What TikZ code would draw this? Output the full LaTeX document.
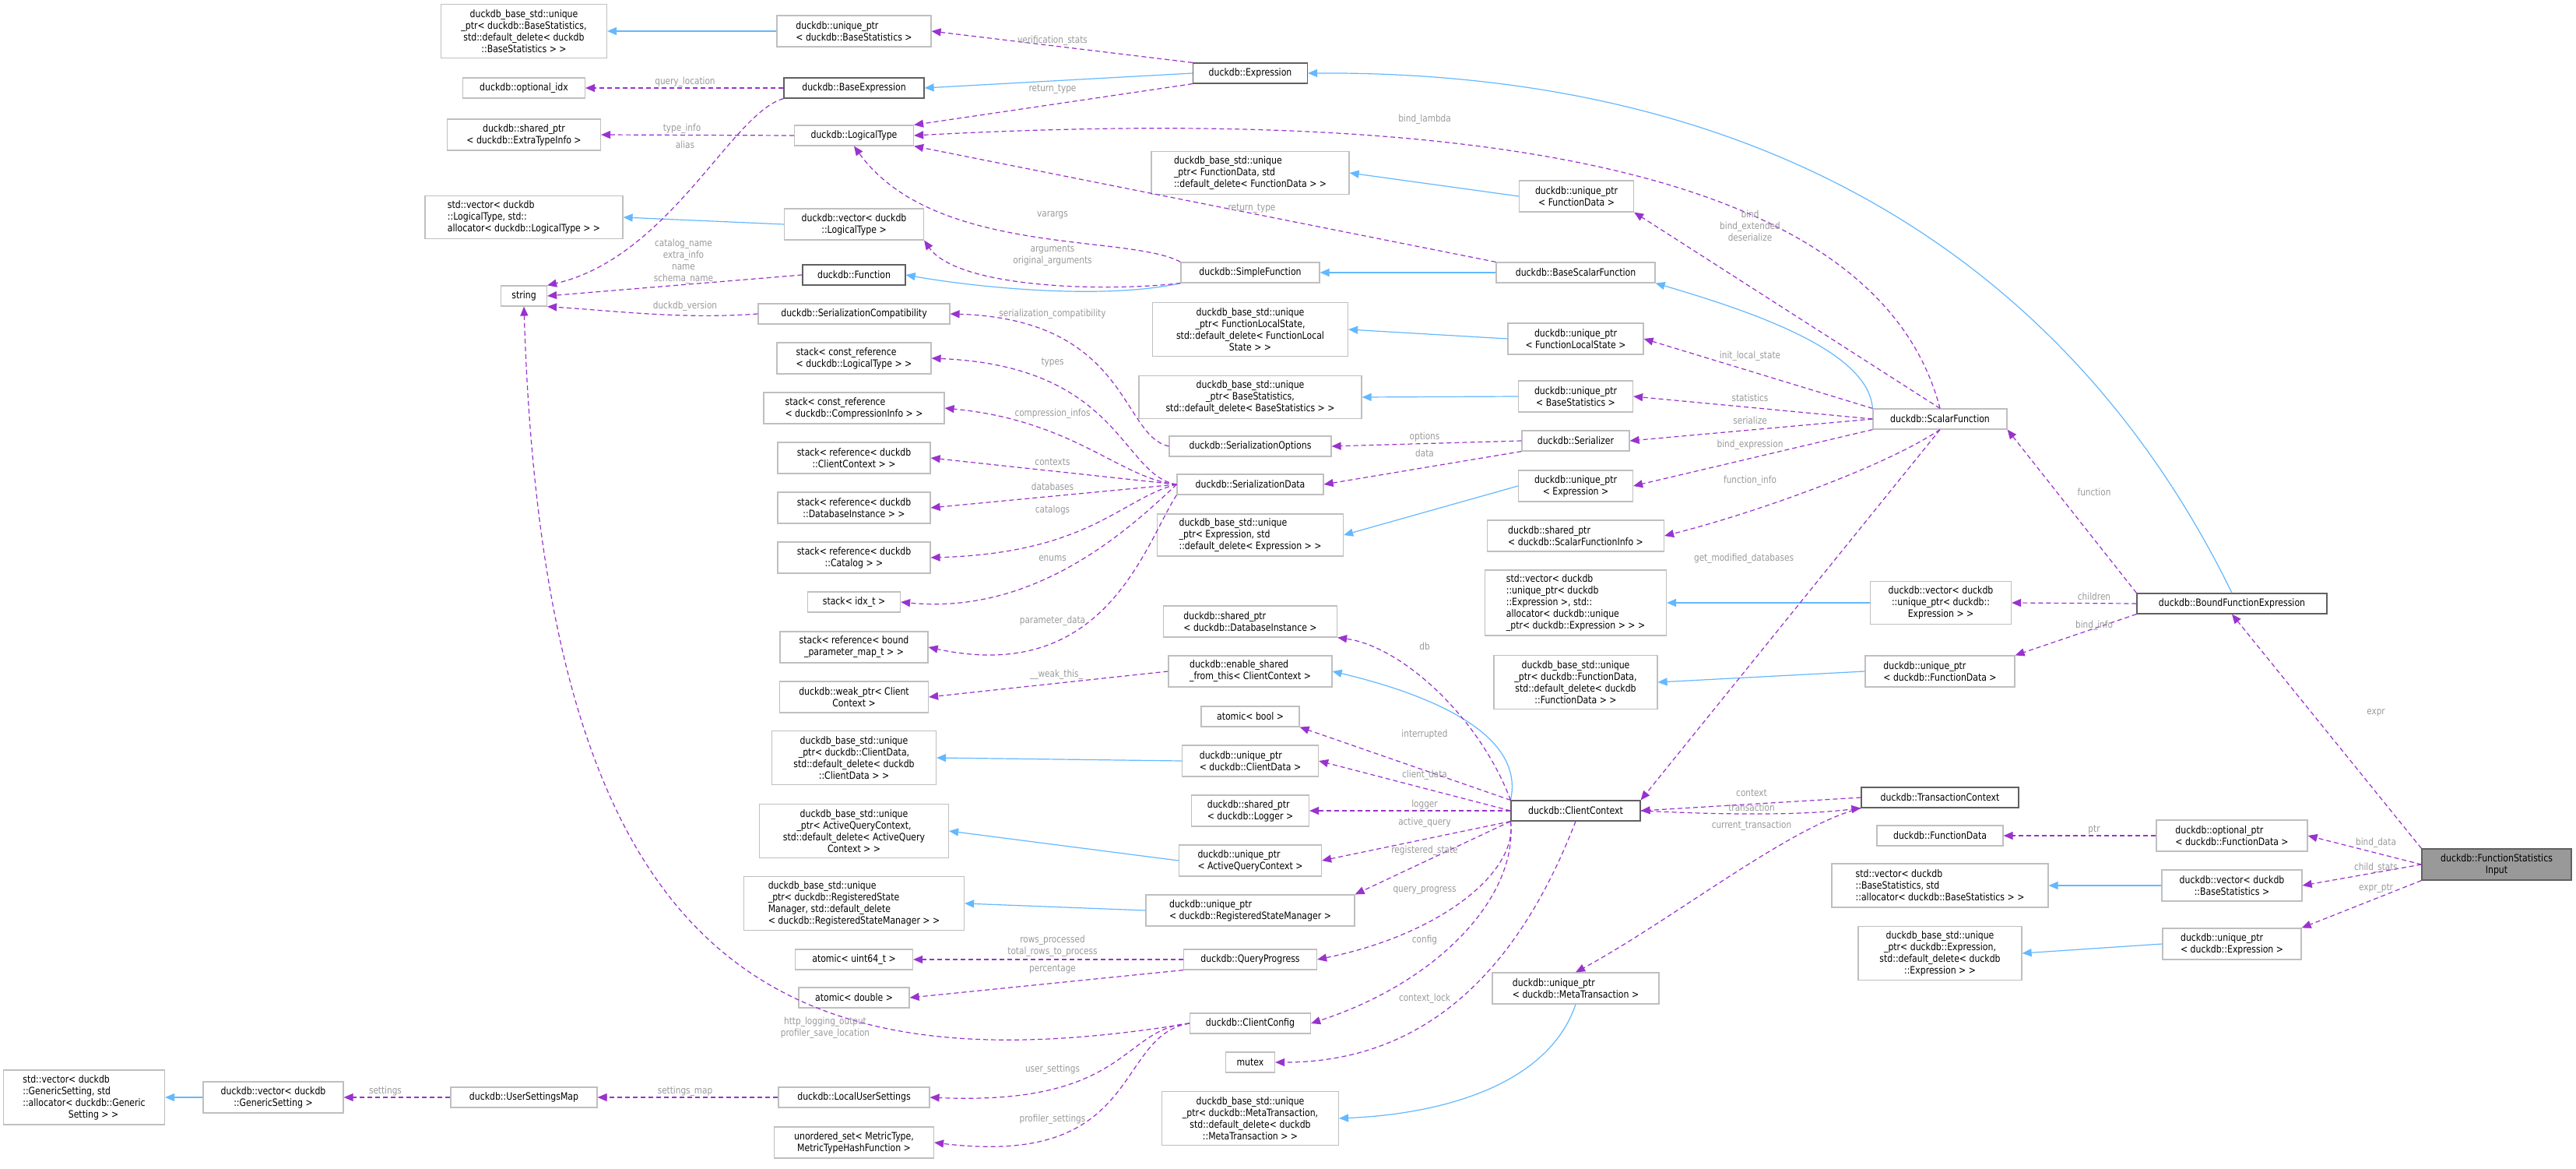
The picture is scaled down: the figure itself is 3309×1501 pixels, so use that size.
\documentclass[tikz,border=0pt]{standalone}
\usepackage{fontspec}
\setmainfont{DejaVu Sans}[FakeStretch=0.84]
\usetikzlibrary{arrows.meta}
\definecolor{inhblue}{HTML}{63B8FF}
\definecolor{mempurple}{HTML}{9A32CD}
\definecolor{lblgray}{HTML}{9A9A9A}
\definecolor{boxgray}{HTML}{BFBFBF}
\definecolor{boxdark}{HTML}{606060}
\begin{document}
\begin{tikzpicture}[x=1pt,y=-1pt,
  box/.style={draw=boxgray,line width=1.2pt,fill=white,align=center,inner sep=2pt,font=\fontsize{13}{15}\selectfont},
  dark/.style={box,draw=boxdark},
  inh/.style={draw=inhblue,line width=1.2pt,-{Triangle[length=12pt,width=10pt]}},
  mem/.style={draw=mempurple,line width=1.2pt,dash pattern=on 6pt off 4pt,-{Triangle[length=12pt,width=10pt]}},
  lbl/.style={text=lblgray,align=center,inner sep=0pt,font=\fontsize{12.5}{15}\selectfont}]
\fill[white] (0,0) rectangle (3309,1501);
\useasboundingbox (0,0) rectangle (3309,1501);
% column 673
\node[box,minimum width=213,minimum height=69] (bu1) at (673,40) {duckdb\_base\_std::unique\\\_ptr< duckdb::BaseStatistics,\\std::default\_delete< duckdb\\::BaseStatistics > >};
\node[box,minimum width=157,minimum height=26] (optidx) at (673,113) {duckdb::optional\_idx};
\node[box,minimum width=197,minimum height=40] (extinfo) at (673,173) {duckdb::shared\_ptr\\< duckdb::ExtraTypeInfo >};
\node[box,minimum width=254,minimum height=55,align=left] (svecLT) at (673,279) {std::vector< duckdb\\::LogicalType, std::\\allocator< duckdb::LogicalType > >};
\node[box,minimum width=59,minimum height=26] (string) at (673,380) {string};
\node[box,minimum width=207,minimum height=70,align=left] (svecGS) at (108,1409) {std::vector< duckdb\\::GenericSetting, std\\::allocator< duckdb::Generic\\\hspace*{4.5em}Setting > >};
\node[box,minimum width=180,minimum height=40] (dvecGS) at (351,1409) {duckdb::vector< duckdb\\::GenericSetting >};
\node[box,minimum width=188,minimum height=26] (usm) at (673,1409) {duckdb::UserSettingsMap};
% column 1097
\node[box,minimum width=198,minimum height=40,align=left] (ubs) at (1097,40) {duckdb::unique\_ptr\\< duckdb::BaseStatistics >};
\node[dark,minimum width=180,minimum height=26] (bexpr) at (1097,113) {duckdb::BaseExpression};
\node[box,minimum width=153,minimum height=26] (lt) at (1097,174) {duckdb::LogicalType};
\node[box,minimum width=179,minimum height=40] (dvecLT) at (1097,288) {duckdb::vector< duckdb\\::LogicalType >};
\node[dark,minimum width=132,minimum height=26] (func) at (1097,353) {duckdb::Function};
\node[box,minimum width=246,minimum height=26] (scompat) at (1097,403) {duckdb::SerializationCompatibility};
\node[box,minimum width=198,minimum height=40,align=left] (stLT) at (1097,460) {stack< const\_reference\\< duckdb::LogicalType > >};
\node[box,minimum width=232,minimum height=40,align=left] (stCI) at (1097,524) {stack< const\_reference\\< duckdb::CompressionInfo > >};
\node[box,minimum width=196,minimum height=40] (stCC) at (1097,588) {stack< reference< duckdb\\::ClientContext > >};
\node[box,minimum width=196,minimum height=40] (stDB) at (1097,652) {stack< reference< duckdb\\::DatabaseInstance > >};
\node[box,minimum width=196,minimum height=40] (stCat) at (1097,716) {stack< reference< duckdb\\::Catalog > >};
\node[box,minimum width=119,minimum height=26] (stIdx) at (1097,773) {stack< idx\_t >};
\node[box,minimum width=190,minimum height=40] (stPM) at (1097,831) {stack< reference< bound\\\_parameter\_map\_t > >};
\node[box,minimum width=191,minimum height=40] (weak) at (1097,895) {duckdb::weak\_ptr< Client\\Context >};
\node[box,minimum width=211,minimum height=69] (bCD) at (1097,973) {duckdb\_base\_std::unique\\\_ptr< duckdb::ClientData,\\std::default\_delete< duckdb\\::ClientData > >};
\node[box,minimum width=243,minimum height=69] (bAQ) at (1097,1067) {duckdb\_base\_std::unique\\\_ptr< ActiveQueryContext,\\std::default\_delete< ActiveQuery\\Context > >};
\node[box,minimum width=283,minimum height=69,align=left] (bRS) at (1097,1160) {duckdb\_base\_std::unique\\\_ptr< duckdb::RegisteredState\\Manager, std::default\_delete\\< duckdb::RegisteredStateManager > >};
\node[box,minimum width=151,minimum height=26] (au64) at (1097,1232) {atomic< uint64\_t >};
\node[box,minimum width=142,minimum height=26] (adbl) at (1097,1281) {atomic< double >};
\node[box,minimum width=194,minimum height=26] (lus) at (1097,1409) {duckdb::LocalUserSettings};
\node[box,minimum width=205,minimum height=40] (uset) at (1097,1467) {unordered\_set< MetricType,\\MetricTypeHashFunction >};
% column 1606
\node[dark,minimum width=147,minimum height=26] (expr) at (1606,94) {duckdb::Expression};
\node[box,minimum width=254,minimum height=55,align=left] (bFD) at (1606,222) {duckdb\_base\_std::unique\\\_ptr< FunctionData, std\\::default\_delete< FunctionData > >};
\node[box,minimum width=178,minimum height=26] (sf) at (1606,350) {duckdb::SimpleFunction};
\node[box,minimum width=251,minimum height=69] (bFLS) at (1606,423) {duckdb\_base\_std::unique\\\_ptr< FunctionLocalState,\\std::default\_delete< FunctionLocal\\State > >};
\node[box,minimum width=286,minimum height=55] (bBS) at (1606,510) {duckdb\_base\_std::unique\\\_ptr< BaseStatistics,\\std::default\_delete< BaseStatistics > >};
\node[box,minimum width=208,minimum height=26] (sopt) at (1606,573) {duckdb::SerializationOptions};
\node[box,minimum width=188,minimum height=26] (sdata) at (1606,622) {duckdb::SerializationData};
\node[box,minimum width=239,minimum height=54,align=left] (bEx) at (1606,687) {duckdb\_base\_std::unique\\\_ptr< Expression, std\\::default\_delete< Expression > >};
\node[box,minimum width=223,minimum height=40,align=left] (sDBI) at (1606,798) {duckdb::shared\_ptr\\< duckdb::DatabaseInstance >};
\node[box,minimum width=210,minimum height=40,align=left] (esft) at (1606,862) {duckdb::enable\_shared\\\_from\_this< ClientContext >};
\node[box,minimum width=126,minimum height=26] (abool) at (1606,920) {atomic< bool >};
\node[box,minimum width=175,minimum height=40,align=left] (uCD) at (1606,977) {duckdb::unique\_ptr\\< duckdb::ClientData >};
\node[box,minimum width=151,minimum height=40,align=left] (slog) at (1606,1041) {duckdb::shared\_ptr\\< duckdb::Logger >};
\node[box,minimum width=183,minimum height=40,align=left] (uAQ) at (1606,1105) {duckdb::unique\_ptr\\< ActiveQueryContext >};
\node[box,minimum width=268,minimum height=40,align=left] (uRS) at (1606,1169) {duckdb::unique\_ptr\\< duckdb::RegisteredStateManager >};
\node[box,minimum width=171,minimum height=26] (qp) at (1606,1232) {duckdb::QueryProgress};
\node[box,minimum width=155,minimum height=26] (ccfg) at (1606,1314) {duckdb::ClientConfig};
\node[box,minimum width=63,minimum height=26] (mutex) at (1606,1364) {mutex};
\node[box,minimum width=227,minimum height=69] (bMT) at (1606,1436) {duckdb\_base\_std::unique\\\_ptr< duckdb::MetaTransaction,\\std::default\_delete< duckdb\\::MetaTransaction > >};
% column 2024
\node[box,minimum width=147,minimum height=40] (uFD) at (2025,252) {duckdb::unique\_ptr\\< FunctionData >};
\node[box,minimum width=204,minimum height=26] (bsf) at (2024,350) {duckdb::BaseScalarFunction};
\node[box,minimum width=174,minimum height=40] (uFLS) at (2024,435) {duckdb::unique\_ptr\\< FunctionLocalState >};
\node[box,minimum width=147,minimum height=40] (uBS) at (2024,509) {duckdb::unique\_ptr\\< BaseStatistics >};
\node[box,minimum width=138,minimum height=26] (ser) at (2024,566) {duckdb::Serializer};
\node[box,minimum width=147,minimum height=40] (uEx) at (2024,624) {duckdb::unique\_ptr\\< Expression >};
\node[box,minimum width=227,minimum height=40,align=left] (sSFI) at (2024,688) {duckdb::shared\_ptr\\< duckdb::ScalarFunctionInfo >};
\node[box,minimum width=233,minimum height=84,align=left] (svUE) at (2024,774) {std::vector< duckdb\\::unique\_ptr< duckdb\\::Expression >, std::\\allocator< duckdb::unique\\\_ptr< duckdb::Expression > > >};
\node[box,minimum width=210,minimum height=69] (bFDd) at (2024,876) {duckdb\_base\_std::unique\\\_ptr< duckdb::FunctionData,\\std::default\_delete< duckdb\\::FunctionData > >};
\node[dark,minimum width=166,minimum height=26] (cc) at (2024,1041) {duckdb::ClientContext};
\node[box,minimum width=214,minimum height=40,align=left] (uMT) at (2024,1269) {duckdb::unique\_ptr\\< duckdb::MetaTransaction >};
% column 2492
\node[box,minimum width=172,minimum height=26] (scf) at (2492,538) {duckdb::ScalarFunction};
\node[box,minimum width=181,minimum height=55] (dvUE) at (2493,774) {duckdb::vector< duckdb\\::unique\_ptr< duckdb::\\Expression > >};
\node[box,minimum width=192,minimum height=40,align=left] (uFDd) at (2492,862) {duckdb::unique\_ptr\\< duckdb::FunctionData >};
\node[dark,minimum width=202,minimum height=26] (tc) at (2492,1024) {duckdb::TransactionContext};
\node[box,minimum width=162,minimum height=26] (fd) at (2492,1073) {duckdb::FunctionData};
\node[box,minimum width=278,minimum height=56,align=left] (svBS) at (2492,1137) {std::vector< duckdb\\::BaseStatistics, std\\::allocator< duckdb::BaseStatistics > >};
\node[box,minimum width=210,minimum height=69] (bExd) at (2492,1224) {duckdb\_base\_std::unique\\\_ptr< duckdb::Expression,\\std::default\_delete< duckdb\\::Expression > >};
% column 2867
\node[dark,minimum width=244,minimum height=26] (bfe) at (2867,775) {duckdb::BoundFunctionExpression};
\node[box,minimum width=194,minimum height=40,align=left] (optFD) at (2867,1073) {duckdb::optional\_ptr\\< duckdb::FunctionData >};
\node[box,minimum width=180,minimum height=40] (dvBS) at (2867,1137) {duckdb::vector< duckdb\\::BaseStatistics >};
\node[box,minimum width=178,minimum height=40,align=left] (uExd) at (2867,1212) {duckdb::unique\_ptr\\< duckdb::Expression >};
\node[dark,fill=black!40,minimum width=192,minimum height=40] (fsi) at (3207,1110) {duckdb::FunctionStatistics\\Input};
% inheritance
\draw[inh] (ubs.west) -- (bu1.east);
\draw[inh] (expr.west) -- (bexpr.east);
\draw[inh] (dvecLT.west) -- (svecLT.east);
\draw[inh] (bfe.north) .. controls (2720,460) and (2400,90) .. (expr.east);
\draw[inh] (uFD.west) -- (bFD.east);
\draw[inh] (sf.south west) .. controls (1420,385) and (1260,370) .. (func.east);
\draw[inh] (bsf.west) -- (sf.east);
\draw[inh] (scf.north west) .. controls (2400,450) and (2250,400) .. (bsf.south east);
\draw[inh] (uFLS.west) -- (bFLS.east);
\draw[inh] (uBS.west) -- (bBS.east);
\draw[inh] (uEx.west) -- (bEx.east);
\draw[inh] (dvUE.west) -- (svUE.east);
\draw[inh] (uFDd.west) -- (bFDd.east);
\draw[inh] (cc.north west) .. controls (1960,940) and (1830,890) .. (esft.east);
\draw[inh] (uCD.west) -- (bCD.east);
\draw[inh] (uAQ.west) -- (bAQ.east);
\draw[inh] (uRS.west) -- (bRS.east);
\draw[inh] (uMT.south) .. controls (1990,1390) and (1860,1430) .. (bMT.east);
\draw[inh] (dvecGS.west) -- (svecGS.east);
\draw[inh] (dvBS.west) -- (svBS.east);
\draw[inh] (uExd.west) -- (bExd.east);
% members
\draw[mem] (expr.north west) -- (ubs.east);
\draw[mem] (bexpr.west) -- (optidx.east);
\draw[mem] (bexpr.south west) .. controls (940,145) and (860,330) .. (string.north east);
\draw[mem] (expr.south west) -- (lt.north east);
\draw[mem] (lt.west) -- (extinfo.east);
\draw[mem] (scf.north) .. controls (2420,250) and (2000,130) .. (lt.east);
\draw[mem] (sf.north west) .. controls (1450,300) and (1200,330) .. (lt.south);
\draw[mem] (bsf.north west) -- (lt.south east);
\draw[mem] (sf.south west) .. controls (1420,375) and (1230,370) .. (dvecLT.south east);
\draw[mem] (func.west) -- (string.east);
\draw[mem] (scompat.west) .. controls (880,410) and (800,400) .. (string.south east);
\draw[mem] (ccfg.west) .. controls (1000,1400) and (700,1250) .. (string.south);
\draw[mem] (scf.north) -- (uFD.south east);
\draw[mem] (scf.north west) -- (uFLS.east);
\draw[mem] (scf.west) -- (uBS.east);
\draw[mem] (scf.west) -- (ser.east);
\draw[mem] (scf.south west) -- (uEx.east);
\draw[mem] (scf.south) .. controls (2420,600) and (2250,660) .. (sSFI.east);
\draw[mem] (scf.south) -- (cc.north east);
\draw[mem] (bfe.north west) -- (scf.south east);
\draw[mem] (bfe.west) -- (dvUE.east);
\draw[mem] (bfe.south west) -- (uFDd.north east);
\draw[mem] (fsi.north west) -- (bfe.south);
\draw[mem] (fsi.west) -- (optFD.east);
\draw[mem] (fsi.west) -- (dvBS.east);
\draw[mem] (fsi.south west) -- (uExd.north east);
\draw[mem] (optFD.west) -- (fd.east);
\draw[mem] (ser.west) -- (sopt.east);
\draw[mem] (ser.south west) -- (sdata.east);
\draw[mem] (sopt.west) .. controls (1440,560) and (1450,410) .. (scompat.east);
\draw[mem] (sdata.west) .. controls (1440,610) and (1440,470) .. (stLT.east);
\draw[mem] (sdata.west) .. controls (1440,615) and (1380,540) .. (stCI.east);
\draw[mem] (sdata.west) -- (stCC.east);
\draw[mem] (sdata.west) -- (stDB.east);
\draw[mem] (sdata.west) .. controls (1440,640) and (1400,710) .. (stCat.east);
\draw[mem] (sdata.west) .. controls (1450,680) and (1330,790) .. (stIdx.east);
\draw[mem] (sdata.south west) .. controls (1470,700) and (1420,880) .. (stPM.east);
\draw[mem] (esft.west) -- (weak.east);
\draw[mem] (cc.north west) .. controls (1900,920) and (1800,830) .. (sDBI.south east);
\draw[mem] (cc.north west) -- (abool.south east);
\draw[mem] (cc.west) -- (uCD.east);
\draw[mem] (cc.west) -- (slog.east);
\draw[mem] (cc.south west) -- (uAQ.east);
\draw[mem] (cc.south west) -- (uRS.north east);
\draw[mem] (cc.south west) .. controls (1950,1120) and (1850,1200) .. (qp.east);
\draw[mem] (cc.south west) .. controls (1950,1150) and (1850,1260) .. (ccfg.east);
\draw[mem] (cc.south) .. controls (1960,1220) and (1850,1364) .. (mutex.east);
\draw[mem] (qp.west) -- (au64.east);
\draw[mem] (qp.south west) -- (adbl.east);
\draw[mem] (ccfg.west) .. controls (1440,1320) and (1450,1420) .. (lus.east);
\draw[mem] (ccfg.west) .. controls (1430,1330) and (1470,1500) .. (uset.east);
\draw[mem] (lus.west) -- (usm.east);
\draw[mem] (usm.west) -- (dvecGS.east);
\draw[mem] (tc.west) -- (cc.east);
\draw[mem] (cc.east) .. controls (2250,1048) and (2330,1045) .. (tc.south west);
\draw[mem] (tc.south west) .. controls (2300,1060) and (2150,1180) .. (uMT.north);
% labels
\node[lbl] (l1) at (1352,52) {verification\_stats};
\node[lbl] (l2) at (880,105) {query\_location};
\node[lbl] (l3) at (876,165) {type\_info};
\node[lbl] (l4) at (880,186) {alias};
\node[lbl] (l5) at (1352,115) {return\_type};
\node[lbl] (l6) at (1830,153) {bind\_lambda};
\node[lbl] (l7) at (1352,276) {varargs};
\node[lbl] (l8) at (1608,268) {return\_type};
\node[lbl] (l9) at (1352,328) {arguments\\original\_arguments};
\node[lbl] (l10) at (878,336) {catalog\_name\\extra\_info\\name\\schema\_name};
\node[lbl] (l11) at (880,393) {duckdb\_version};
\node[lbl] (l12) at (1352,403) {serialization\_compatibility};
\node[lbl] (l13) at (1352,465) {types};
\node[lbl] (l14) at (1352,531) {compression\_infos};
\node[lbl] (l15) at (1352,593) {contexts};
\node[lbl] (l16) at (1352,625) {databases};
\node[lbl] (l17) at (1352,655) {catalogs};
\node[lbl] (l18) at (1352,717) {enums};
\node[lbl] (l19) at (1352,797) {parameter\_data};
\node[lbl] (l20) at (1357,866) {\_\_weak\_this\_};
\node[lbl] (l21) at (1060,1320) {http\_logging\_output\\profiler\_save\_location};
\node[lbl] (l22) at (1352,1373) {user\_settings};
\node[lbl] (l23) at (1352,1437) {profiler\_settings};
\node[lbl] (l24) at (880,1401) {settings\_map};
\node[lbl] (l25) at (495,1401) {settings};
\node[lbl] (l26) at (1352,1215) {rows\_processed\\total\_rows\_to\_process};
\node[lbl] (l27) at (1352,1244) {percentage};
\node[lbl] (l28) at (1830,830) {db};
\node[lbl] (l29) at (1830,943) {interrupted};
\node[lbl] (l30) at (1830,995) {client\_data};
\node[lbl] (l31) at (1830,1033) {logger};
\node[lbl] (l32) at (1830,1056) {active\_query};
\node[lbl] (l33) at (1830,1092) {registered\_state};
\node[lbl] (l34) at (1830,1143) {query\_progress};
\node[lbl] (l35) at (1830,1207) {config};
\node[lbl] (l36) at (1830,1282) {context\_lock};
\node[lbl] (l37) at (1830,561) {options};
\node[lbl] (l38) at (1830,582) {data};
\node[lbl] (l39) at (2248,290) {bind\\bind\_extended\\deserialize};
\node[lbl] (l40) at (2248,457) {init\_local\_state};
\node[lbl] (l41) at (2248,511) {statistics};
\node[lbl] (l42) at (2248,540) {serialize};
\node[lbl] (l43) at (2248,571) {bind\_expression};
\node[lbl] (l44) at (2248,617) {function\_info};
\node[lbl] (l45) at (2240,717) {get\_modified\_databases};
\node[lbl] (l46) at (2690,632) {function};
\node[lbl] (l47) at (2690,766) {children};
\node[lbl] (l48) at (2690,803) {bind\_info};
\node[lbl] (l49) at (2250,1018) {context};
\node[lbl] (l50) at (2250,1037) {transaction};
\node[lbl] (l51) at (2250,1060) {current\_transaction};
\node[lbl] (l52) at (2690,1065) {ptr};
\node[lbl] (l53) at (3052,1082) {bind\_data};
\node[lbl] (l54) at (3052,1114) {child\_stats};
\node[lbl] (l55) at (3052,1141) {expr\_ptr};
\node[lbl] (l56) at (3052,915) {expr};
\end{tikzpicture}
\end{document}
